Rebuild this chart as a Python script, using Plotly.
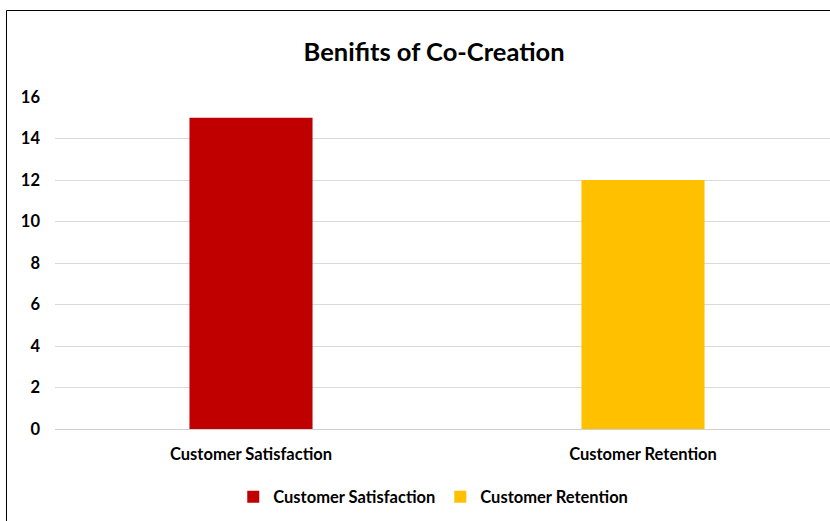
import plotly.graph_objects as go

categories = ["Customer Satisfaction", "Customer Retention"]
values = [15, 12]
colors = ["#C00000", "#FFC000"]
tick_vals = [0, 2, 4, 6, 8, 10, 12, 14, 16]
title_text = "Benifits of Co-Creation"

FONT = "Lato, sans-serif"

fig = go.Figure()
for i, (cat, val, col) in enumerate(zip(categories, values, colors)):
    fig.add_trace(go.Bar(
        x=[cat], y=[val], name=cat, marker=dict(color=col, line=dict(width=0)),
        width=0.314, offset=-0.157,
    ))

L, R, T, B = 55, 0, 97, 92
W, H = 830, 521
pw, ph = W - L - R, H - T - B

bold = dict(family=FONT, size=16.5, color="#000000", weight="bold")

fig.update_layout(
    width=W, height=H,
    margin=dict(l=L, r=R, t=T, b=B),
    paper_bgcolor="white", plot_bgcolor="white",
    font=bold,
    title=dict(text=title_text, xref="container", x=0.523, xanchor="center",
               yref="container", y=1 - 52 / H, yanchor="middle",
               font=dict(size=25.5, family=FONT, color="#000000", weight="bold")),
    barmode="overlay",
    showlegend=True,
    legend=dict(orientation="h", xref="container", x=0.522, xanchor="center",
                yref="container", y=1 - 497 / H, yanchor="middle",
                font=bold, traceorder="normal", itemwidth=30),
    xaxis=dict(range=[-0.5, -0.5 + pw / 392.0], showgrid=False, zeroline=False,
               showline=False, ticks="", tickfont=bold, ticklabelstandoff=13),
    yaxis=dict(range=[0, 16], tickvals=tick_vals, showgrid=True, gridcolor="#D9D9D9",
               gridwidth=1, zeroline=True, zerolinecolor="#D0D0D0", zerolinewidth=1,
               showline=False, ticks="", tickfont=bold, ticklabelstandoff=14),
    shapes=[dict(type="rect", xref="paper", yref="paper",
                 x0=(6.5 - L) / pw, x1=1.05, y0=-0.5, y1=(H - B - 10.5) / ph,
                 line=dict(color="#000000", width=1), fillcolor="rgba(0,0,0,0)", layer="above")],
)

fig.write_html("out.html")
